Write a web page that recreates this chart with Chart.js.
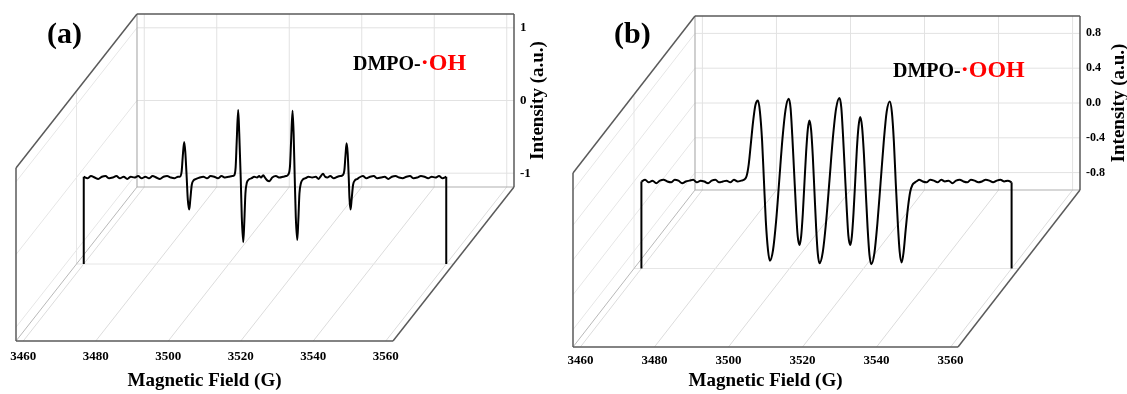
<!DOCTYPE html>
<html>
<head>
<meta charset="utf-8">
<script src="https://cdn.jsdelivr.net/npm/chart.js@4.4.1/dist/chart.umd.min.js"></script>
<style>
    html, body { margin: 0; padding: 0; background: #fff; }
    #wrap { position: relative; width: 1127px; height: 394px; overflow: hidden; }
    canvas { position: absolute; top: 0; }
    #chartA { left: 0; }
    #chartB { left: 560px; }
</style>
</head>
<body>
<div id="wrap">
    <canvas id="chartA" width="560" height="394"></canvas>
    <canvas id="chartB" width="567" height="394"></canvas>
</div>
<script>
// ==================== DATA ====================
const fieldTicks = [3460, 3480, 3500, 3520, 3540, 3560];
const intensityTicksA = [-1, 0, 1];
const intensityTicksB = [-0.8, -0.4, 0.0, 0.4, 0.8];

// (a) DMPO-·OH
const fieldA = [
    3460, 3461, 3462, 3463, 3464, 3465, 3466, 3467, 3468, 3469,
    3470, 3471, 3472, 3473, 3474, 3475, 3476, 3477, 3478, 3479,
    3480, 3481, 3482, 3483, 3484, 3485, 3486,
    3486.5, 3487.0, 3487.3, 3487.7, 3488.0, 3488.4, 3488.7, 3489.1, 3489.4, 3489.8, 3490.3,
    3491, 3492, 3493, 3494, 3495, 3496, 3497, 3498, 3499, 3500, 3501,
    3501.5, 3501.9, 3502.2, 3502.6, 3502.9, 3503.3, 3503.6, 3504.0, 3504.3, 3504.6, 3505.0, 3505.5,
    3506.3, 3507.0, 3507.8, 3508.4, 3508.9, 3509.5, 3510.1, 3510.6, 3511.2, 3512.0, 3513.0, 3514.0, 3515.0, 3515.8,
    3516.4, 3516.9, 3517.2, 3517.6, 3517.9, 3518.2, 3518.5, 3518.9, 3519.2, 3519.5, 3519.9, 3520.4,
    3521.2, 3522.0, 3523.0, 3524.0, 3524.8, 3525.4, 3526.0, 3526.6, 3527.2, 3528.0, 3529.0, 3530.0, 3530.8,
    3531.4, 3531.9, 3532.2, 3532.5, 3532.8, 3533.1, 3533.3, 3533.6, 3533.9, 3534.3, 3534.8, 3535.5,
    3536, 3537, 3538, 3539, 3540, 3541, 3542, 3543, 3544, 3545, 3546, 3547, 3548,
    3549, 3550, 3551, 3552, 3553, 3554, 3555, 3556, 3557, 3558, 3559, 3560
];
const intensityA = [
    0.01, -0.01, 0.02, 0.00, -0.02, 0.01, 0.02, -0.01, 0.00, 0.02,
    -0.01, 0.01, -0.02, 0.01, 0.00, 0.02, -0.01, 0.01, -0.01, 0.02,
    0.00, -0.02, 0.01, 0.02, 0.00, -0.01, 0.01,
    0.01, 0.08, 0.28, 0.49, 0.36, 0.00, -0.30, -0.44, -0.30, -0.10, -0.04,
    -0.02, 0.00, 0.01, -0.01, 0.02, 0.01, -0.01, 0.02, 0.00, 0.01, 0.02,
    0.03, 0.14, 0.50, 0.93, 0.60, 0.00, -0.55, -0.89, -0.60, -0.22, -0.07, -0.03,
    -0.01, 0.01, 0.00, 0.02, 0.00, 0.03, -0.01, -0.04, -0.05, 0.00, 0.02, 0.00, 0.01, 0.02,
    0.04, 0.16, 0.50, 0.92, 0.60, 0.00, -0.55, -0.86, -0.58, -0.22, -0.08, -0.03,
    -0.01, 0.01, 0.00, 0.01, -0.02, 0.02, 0.05, 0.01, 0.00, 0.02, -0.01, 0.01, 0.02,
    0.03, 0.10, 0.30, 0.47, 0.34, 0.00, -0.28, -0.44, -0.30, -0.10, -0.04, -0.02,
    0.00, 0.02, -0.01, 0.01, 0.02, -0.01, 0.00, 0.01, -0.02, 0.01, 0.02, 0.00, -0.01,
    0.01, 0.02, -0.01, 0.00, 0.02, 0.01, -0.01, 0.01, 0.00, 0.02, -0.01, 0.01
];

// (b) DMPO-·OOH
const fieldB = [
    3460, 3461, 3462, 3463, 3464, 3465, 3466, 3467, 3468, 3469,
    3470, 3471, 3472, 3473, 3474, 3475, 3476, 3477, 3478, 3479,
    3480, 3481, 3482, 3483, 3484, 3485, 3486,
    3487.0, 3487.7, 3488.4, 3489.0, 3489.6, 3490.2, 3490.8, 3491.5,
    3492.0, 3492.6, 3493.1, 3493.6, 3494.2, 3494.7,
    3495.55, 3496.4, 3497.25, 3498.1, 3498.95, 3499.8,
    3500.3, 3500.75, 3501.25, 3501.75, 3502.2, 3502.7,
    3503.15, 3503.6, 3504.05, 3504.5, 3504.95, 3505.4,
    3505.85, 3506.3, 3506.75, 3507.2, 3507.65, 3508.1,
    3509.0, 3509.9, 3510.8, 3511.7, 3512.6, 3513.5,
    3514.0, 3514.45, 3514.95, 3515.45, 3515.9, 3516.4,
    3516.85, 3517.3, 3517.75, 3518.2, 3518.65, 3519.1,
    3519.6, 3520.1, 3520.6, 3521.1, 3521.6, 3522.1,
    3522.95, 3523.75, 3524.6, 3525.45, 3526.25, 3527.1,
    3527.65, 3528.2, 3528.7, 3529.25, 3529.75, 3530.3,
    3530.8, 3531.4, 3532.0, 3532.6, 3533.2, 3533.9, 3534.6,
    3535, 3536, 3537, 3538, 3539, 3540, 3541, 3542, 3543, 3544, 3545, 3546, 3547,
    3548, 3549, 3550, 3551, 3552, 3553, 3554, 3555, 3556, 3557, 3558, 3559, 3560
];
const intensityB = [
    0.00, 0.02, -0.01, 0.01, -0.02, 0.01, 0.02, 0.00, -0.01, 0.02,
    0.01, -0.02, 0.00, 0.01, 0.02, -0.01, 0.01, 0.00, -0.02, 0.01,
    0.02, -0.01, 0.00, 0.01, -0.01, 0.02, 0.00,
    0.01, 0.02, 0.06, 0.20, 0.45, 0.70, 0.88, 0.93,
    0.81, 0.47, 0.01, -0.45, -0.79, -0.91,
    -0.79, -0.45, 0.02, 0.49, 0.83, 0.95,
    0.84, 0.53, 0.11, -0.31, -0.62, -0.73,
    -0.63, -0.37, -0.01, 0.34, 0.60, 0.70,
    0.59, 0.29, -0.12, -0.53, -0.83, -0.94,
    -0.81, -0.46, 0.01, 0.49, 0.84, 0.96,
    0.85, 0.54, 0.12, -0.30, -0.62, -0.73,
    -0.63, -0.36, 0.00, 0.37, 0.63, 0.74,
    0.63, 0.32, -0.11, -0.53, -0.84, -0.95,
    -0.82, -0.48, -0.02, 0.45, 0.80, 0.92,
    0.80, 0.46, -0.01, -0.47, -0.80, -0.93,
    -0.82, -0.55, -0.30, -0.12, -0.04, -0.01, 0.01,
    0.02, 0.00, -0.01, 0.02, 0.01, -0.01, 0.02, 0.00, 0.01, -0.02, 0.01, 0.02, 0.00,
    -0.01, 0.02, 0.01, -0.01, 0.00, 0.02, 0.01, -0.01, 0.01, 0.02, 0.00, 0.01, -0.01
];

const SERIF = '"Liberation Serif", "Times New Roman", serif';

// ==================== 3D BOX PLUGIN ====================
// chart area = front plane of the box; dx/dy = offset to the back wall
const box3d = {
    id: 'box3d',
    beforeDatasetsDraw(chart, args, o) {
        const ctx = chart.ctx, a = chart.chartArea;
        const xs = chart.scales.x, ys = chart.scales.y;
        const dx = o.dx, dy = o.dy;
        const line = (x1, y1, x2, y2, color, w) => {
            ctx.beginPath();
            ctx.strokeStyle = color;
            ctx.lineWidth = w;
            ctx.moveTo(x1, y1);
            ctx.lineTo(x2, y2);
            ctx.stroke();
        };
        const mx = dx * o.depth, my = dy * o.depth;

        ctx.save();
        // grille
        fieldTicks.forEach(v => {
            const x = xs.getPixelForValue(v);
            line(x, a.bottom, x + dx, a.bottom + dy, '#dcdcdc', 1);
            line(x + dx, a.top + dy, x + dx, a.bottom + dy, '#e2e2e2', 1);
        });
        o.yTicks.forEach(v => {
            const y = ys.getPixelForValue(v);
            line(a.left, y, a.left + dx, y + dy, '#e6e6e6', 1);
            line(a.left + dx, y + dy, a.right + dx, y + dy, '#e2e2e2', 1);
        });
        line(a.left + mx, a.bottom + my, a.right + mx, a.bottom + my, '#e6e6e6', 1);
        line(a.left + mx, a.top + my, a.left + mx, a.bottom + my, '#e6e6e6', 1);

        // arêtes claires
        line(a.left, a.bottom, a.left + dx, a.bottom + dy, '#b8b8b8', 1);
        line(a.left + dx, a.top + dy, a.left + dx, a.bottom + dy, '#b0b0b0', 1.2);
        line(a.left + dx, a.bottom + dy, a.right + dx, a.bottom + dy, '#b0b0b0', 1.2);

        // arêtes foncées
        const dark = '#5a5a5a';
        line(a.left, a.top, a.left, a.bottom, dark, 1.5);
        line(a.left, a.bottom, a.right, a.bottom, dark, 1.5);
        line(a.left, a.top, a.left + dx, a.top + dy, dark, 1.5);
        line(a.right, a.bottom, a.right + dx, a.bottom + dy, dark, 1.5);
        line(a.left + dx, a.top + dy, a.right + dx, a.top + dy, dark, 1.5);
        line(a.right + dx, a.top + dy, a.right + dx, a.bottom + dy, dark, 1.5);
        ctx.restore();

        // spectre dessiné dans le plan du milieu
        ctx.save();
        ctx.translate(mx, my);
    },
    afterDatasetsDraw(chart, args, o) {
        const ctx = chart.ctx, a = chart.chartArea;
        const xs = chart.scales.x, ys = chart.scales.y;
        const pts = chart.data.datasets[0].data;
        const ends = [pts[0], pts[pts.length - 1]];
        ctx.strokeStyle = '#000';
        ctx.lineWidth = 2;
        ends.forEach(p => {
            const x = xs.getPixelForValue(p.x);
            ctx.beginPath();
            ctx.moveTo(x, ys.getPixelForValue(p.y));
            ctx.lineTo(x, a.bottom);
            ctx.stroke();
        });
        ctx.restore();
    },
    afterDraw(chart, args, o) {
        const ctx = chart.ctx, a = chart.chartArea;
        const xs = chart.scales.x, ys = chart.scales.y;
        ctx.save();
        ctx.fillStyle = '#000';

        // axe X (plan avant)
        ctx.font = 'bold 13px ' + SERIF;
        ctx.textAlign = 'center';
        ctx.textBaseline = 'middle';
        fieldTicks.forEach(v => ctx.fillText(String(v), xs.getPixelForValue(v), a.bottom + o.xLabelGap));
        ctx.font = 'bold 19px ' + SERIF;
        ctx.textBaseline = 'alphabetic';
        ctx.fillText('Magnetic Field (G)', (a.left + a.right) / 2, a.bottom + o.xTitleGap);

        // axe Y (mur du fond)
        ctx.font = 'bold ' + o.yLabelSize + 'px ' + SERIF;
        ctx.textAlign = 'left';
        ctx.textBaseline = 'middle';
        o.yTicks.forEach(v => {
            ctx.fillText(v.toFixed(o.decimals), a.right + o.dx + o.yLabelGap, ys.getPixelForValue(v) + o.dy);
        });
        ctx.save();
        ctx.translate(a.right + o.dx + o.yTitleGap, (a.top + a.bottom) / 2 + o.dy);
        ctx.rotate(-Math.PI / 2);
        ctx.font = 'bold 19px ' + SERIF;
        ctx.textAlign = 'center';
        ctx.fillText('Intensity (a.u.)', 0, 0);
        ctx.restore();

        // étiquettes
        ctx.font = 'bold 30px ' + SERIF;
        ctx.textAlign = 'left';
        ctx.textBaseline = 'alphabetic';
        ctx.fillText(o.panel, o.panelX, o.panelY);
        ctx.font = 'bold 20px ' + SERIF;
        ctx.fillText(o.prefix, o.specX, o.specY);
        const w = ctx.measureText(o.prefix).width;
        ctx.font = 'bold 24px ' + SERIF;
        ctx.fillStyle = '#ff0000';
        ctx.fillText(o.radical, o.specX + w, o.specY);
        ctx.restore();
    }
};

function buildChart(id, field, intensity, cfg) {
    const points = field.map((f, i) => ({ x: f, y: intensity[i] }));
    return new Chart(document.getElementById(id), {
        type: 'line',
        data: {
            datasets: [{
                data: points,
                borderColor: '#000',
                borderWidth: 2,
                pointRadius: 0,
                cubicInterpolationMode: 'monotone',
                clip: false
            }]
        },
        options: {
            responsive: false,
            animation: false,
            devicePixelRatio: 1,
            layout: { padding: cfg.padding },
            plugins: {
                legend: { display: false },
                tooltip: { enabled: false },
                box3d: cfg.box
            },
            scales: {
                x: {
                    type: 'linear', display: false, min: 3458, max: 3562,
                    afterBuildTicks: s => { s.ticks = fieldTicks.map(v => ({ value: v })); }
                },
                y: {
                    type: 'linear', display: false, min: cfg.yMin, max: cfg.yMax,
                    afterBuildTicks: s => { s.ticks = cfg.box.yTicks.map(v => ({ value: v })); }
                }
            }
        },
        plugins: [box3d]
    });
}

buildChart('chartA', fieldA, intensityA, {
    padding: { left: 16, right: 167, top: 168, bottom: 53 },
    yMin: -1.19, yMax: 1.19,
    box: {
        dx: 121, dy: -154, depth: 0.5,
        yTicks: intensityTicksA, decimals: 0, yLabelSize: 13,
        xLabelGap: 16, xTitleGap: 45, yLabelGap: 6, yTitleGap: 24,
        panel: '(a)', panelX: 47, panelY: 43,
        prefix: 'DMPO-', radical: '\u00B7OH', specX: 353, specY: 70
    }
});

buildChart('chartB', fieldB, intensityB, {
    padding: { left: 13, right: 169, top: 173, bottom: 47 },
    yMin: -1, yMax: 1,
    box: {
        dx: 122, dy: -157, depth: 0.5,
        yTicks: intensityTicksB, decimals: 1, yLabelSize: 12,
        xLabelGap: 14, xTitleGap: 39, yLabelGap: 6, yTitleGap: 39,
        panel: '(b)', panelX: 54, panelY: 43,
        prefix: 'DMPO-', radical: '\u00B7OOH', specX: 333, specY: 77
    }
});
</script>
</body>
</html>
